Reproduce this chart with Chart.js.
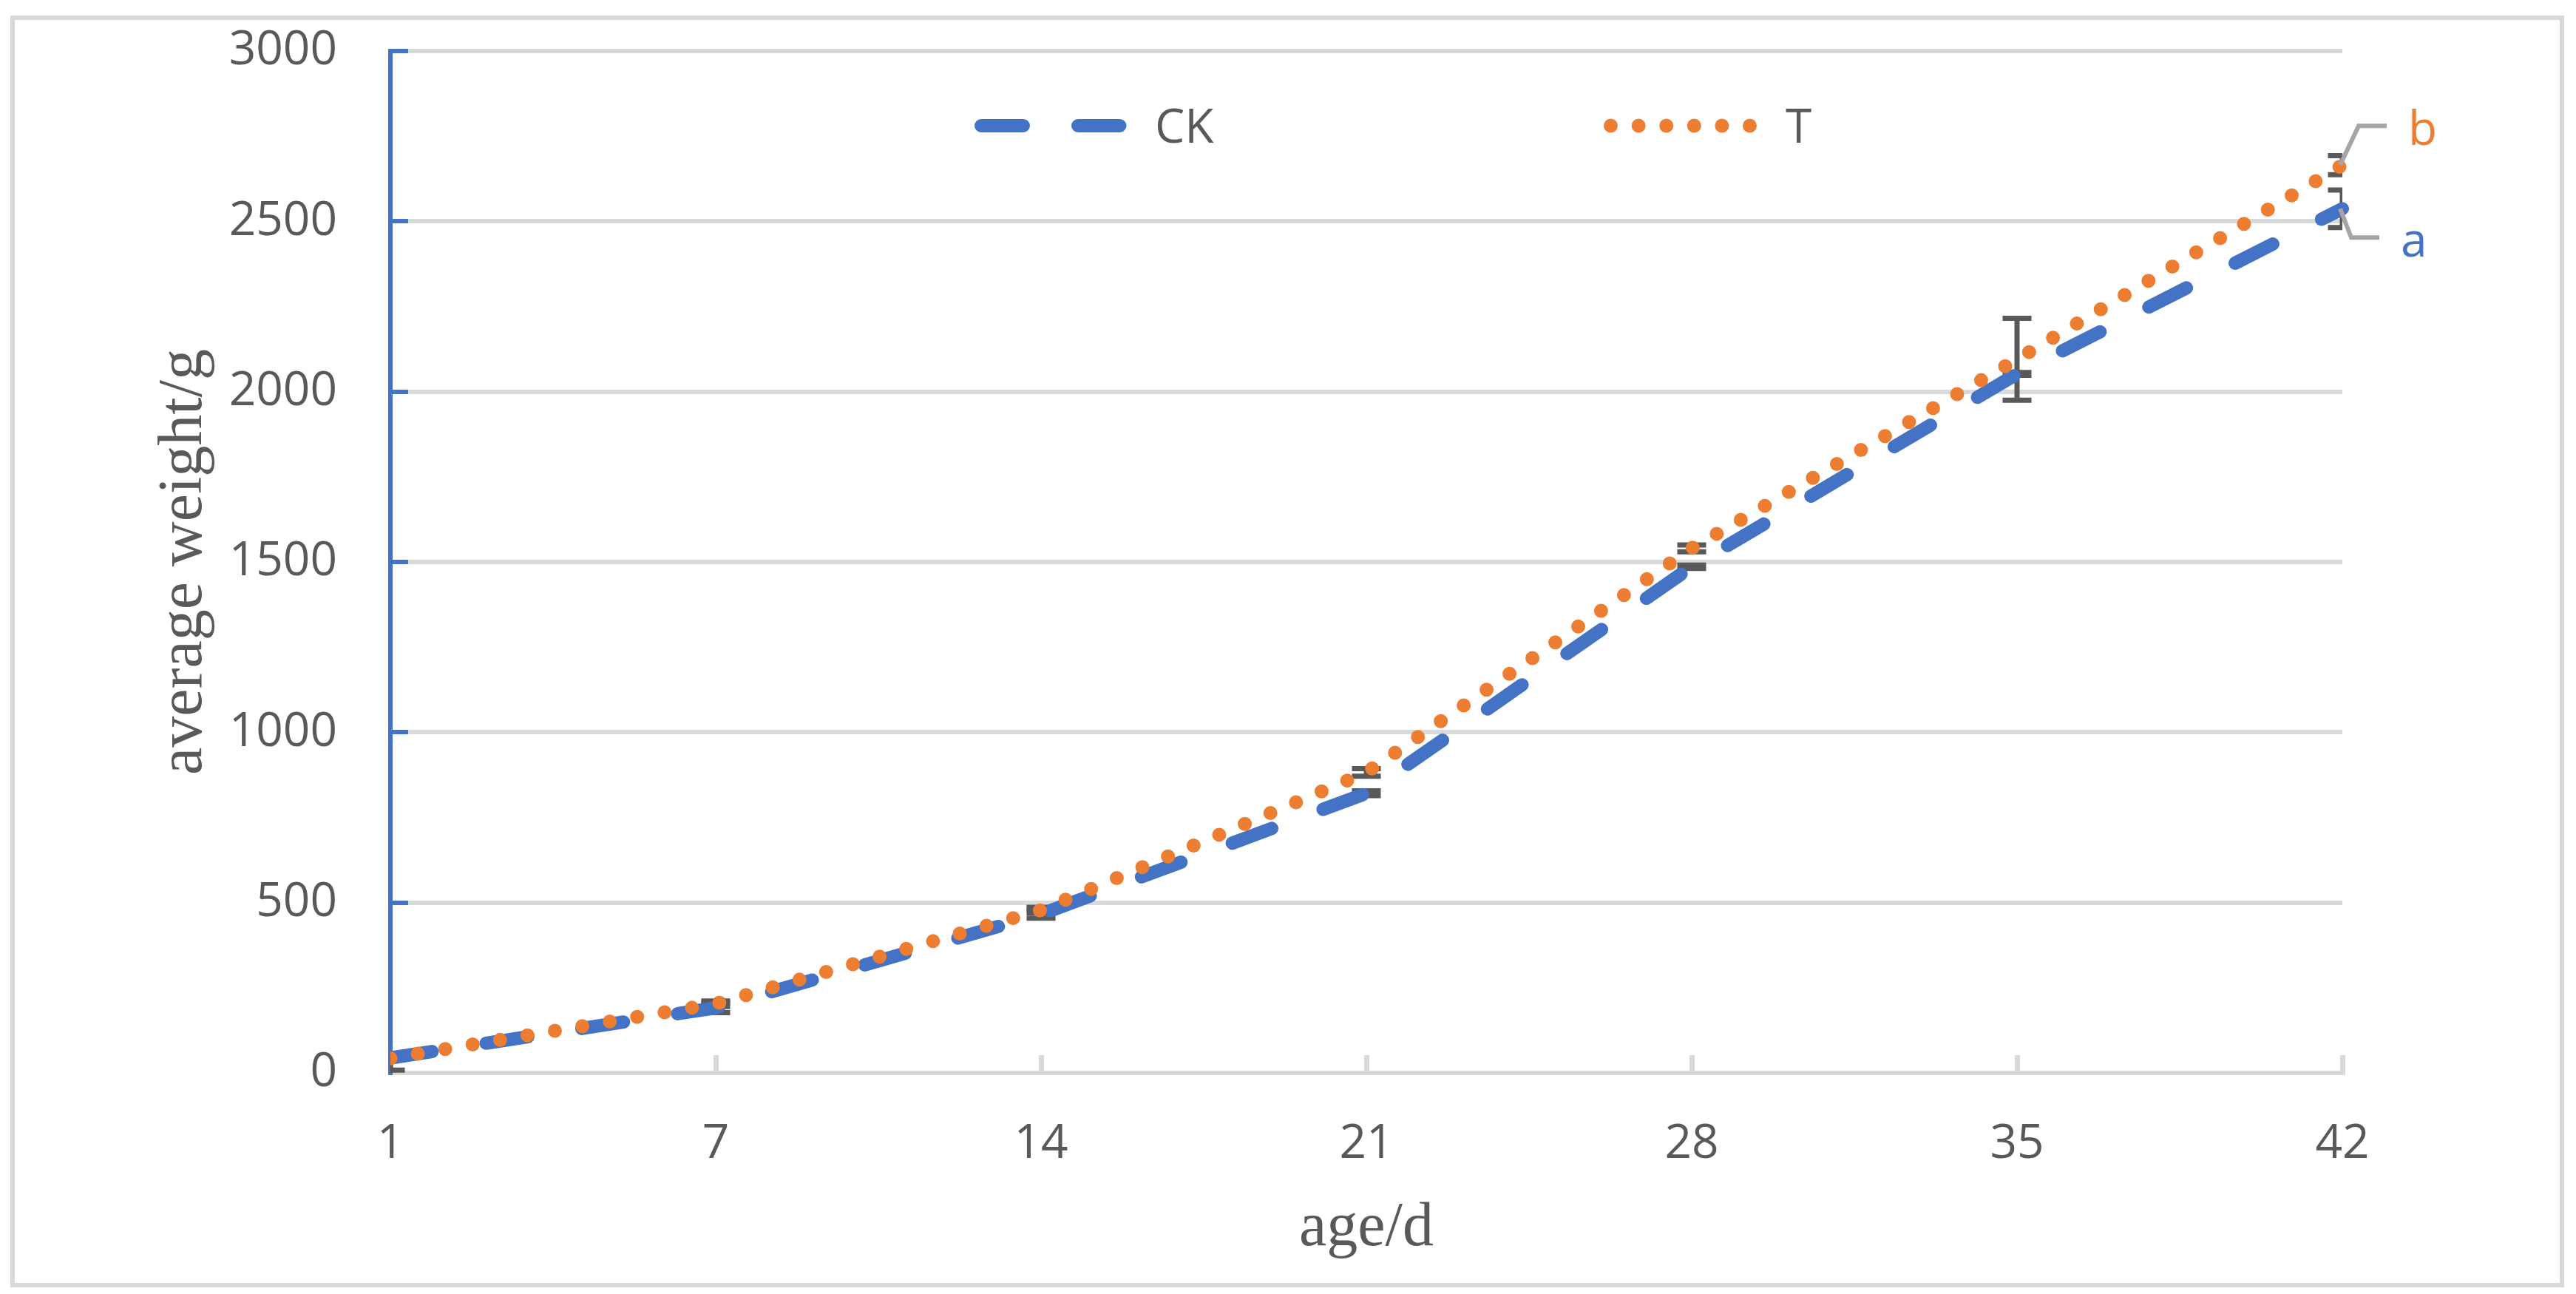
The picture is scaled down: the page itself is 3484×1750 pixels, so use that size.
<!DOCTYPE html>
<html>
<head>
<meta charset="utf-8">
<script src="https://cdn.jsdelivr.net/npm/chart.js@4.4.1/dist/chart.umd.min.js"></script>
<style>
html,body{margin:0;padding:0;background:#ffffff;}
canvas{display:block;}
</style>
</head>
<body>
<canvas id="c" width="3484" height="1750" style="width:3484px;height:1750px"></canvas>
<script>
// ---- data ----
const days = ['1', '7', '14', '21', '28', '35', '42'];
const ckWeight = [44, 191, 466, 821, 1486, 2052, 2537];
const ckErrUp = [0, 14, 12, 7, 5, 4, 55];
const ckErrDown = [36, 14, 12, 7, 5, 4, 55];
const tWeight = [43, 203, 478, 882, 1540, 2095, 2665];
const tErrUp = [2, 8, 8, 11, 10, 120, 28];
const tErrDown = [2, 8, 8, 11, 10, 120, 28];
const yTicks = [0, 500, 1000, 1500, 2000, 2500, 3000];
const seriesNames = ['CK', 'T'];
const sigLetters = ['a', 'b'];
const xTitle = 'age/d';
const yTitle = 'average weight/g';

// ---- style ----
const TEXT = '#595959';
const GRID = '#d9d9d9';
const BLUE = '#4472c4';
const ORANGE = '#ed7d31';
const LEADER = '#a5a5a5';
const TICK_FONT = {family: 'Open Sans', size: 64};
const TITLE_FONT = {family: 'Liberation Serif', size: 84};

const framePlugin = {
  id: 'frame',
  beforeDraw(chart) {
    const ctx = chart.ctx;
    ctx.save();
    ctx.fillStyle = '#ffffff';
    ctx.fillRect(0, 0, chart.width, chart.height);
    ctx.strokeStyle = GRID;
    ctx.lineWidth = 6;
    ctx.strokeRect(17, 24, 3448, 1714);
    ctx.restore();
  }
};

const errorBarPlugin = {
  id: 'errorBars',
  beforeDatasetsDraw(chart) {
    const ctx = chart.ctx;
    const ca = chart.chartArea;
    const xs = chart.scales.x, ys = chart.scales.y;
    ctx.save();
    ctx.beginPath();
    ctx.rect(ca.left, ca.top, ca.right - ca.left, ca.bottom - ca.top);
    ctx.clip();
    ctx.strokeStyle = TEXT;
    ctx.lineWidth = 7;
    ctx.lineCap = 'butt';
    chart.data.datasets.forEach(ds => {
      ds.data.forEach((v, i) => {
        const x = xs.getPixelForValue(i);
        const yHi = ys.getPixelForValue(v + ds.errUp[i]);
        const yLo = ys.getPixelForValue(v - ds.errDown[i]);
        ctx.beginPath();
        ctx.moveTo(x, yHi); ctx.lineTo(x, yLo);
        ctx.moveTo(x - 19.5, yHi); ctx.lineTo(x + 19.5, yHi);
        ctx.moveTo(x - 19.5, yLo); ctx.lineTo(x + 19.5, yLo);
        ctx.stroke();
      });
    });
    ctx.restore();
  }
};

// leader line geometry for the significance letters (relative to last point)
const leaderGeom = [
  {dx1: 12, dy1: 39, dx2: 50, tx: 79},
  {dx1: 22, dy1: -53, dx2: 60, tx: 89}
];

const letterPlugin = {
  id: 'letters',
  afterDatasetsDraw(chart) {
    const ctx = chart.ctx;
    ctx.save();
    chart.data.datasets.forEach((ds, di) => {
      const meta = chart.getDatasetMeta(di);
      const p = meta.data[meta.data.length - 1];
      const g = leaderGeom[di];
      ctx.strokeStyle = LEADER;
      ctx.lineWidth = 6;
      ctx.lineJoin = 'miter';
      ctx.lineCap = 'butt';
      ctx.beginPath();
      ctx.moveTo(p.x - 3, p.y);
      ctx.lineTo(p.x + g.dx1, p.y + g.dy1);
      ctx.lineTo(p.x + g.dx2, p.y + g.dy1);
      ctx.stroke();
      ctx.fillStyle = ds.borderColor;
      ctx.font = '64px "Open Sans"';
      ctx.textAlign = 'left';
      ctx.textBaseline = 'alphabetic';
      ctx.fillText(ds.letter, p.x + g.tx, p.y + g.dy1 + 26);
    });
    ctx.restore();
  }
};

// legend drawn inside the plot like the original
const legendGeom = [
  {x1: 1318, x2: 1523, tx: 1562},
  {x1: 2169, x2: 2377, tx: 2415}
];
const legendPlugin = {
  id: 'insideLegend',
  afterDraw(chart) {
    const ctx = chart.ctx;
    const y = 170;
    ctx.save();
    chart.data.datasets.forEach((ds, di) => {
      const g = legendGeom[di];
      const half = ds.borderWidth / 2;
      ctx.strokeStyle = ds.borderColor;
      ctx.lineWidth = ds.borderWidth;
      ctx.lineCap = 'round';
      ctx.setLineDash(ds.borderDash);
      ctx.beginPath();
      ctx.moveTo(g.x1 + half, y);
      ctx.lineTo(g.x2 - half + 0.5, y);
      ctx.stroke();
      ctx.setLineDash([]);
      ctx.fillStyle = TEXT;
      ctx.font = '64px "Open Sans"';
      ctx.textAlign = 'left';
      ctx.textBaseline = 'alphabetic';
      ctx.fillText(ds.label, g.tx, y + 23);
    });
    ctx.restore();
  }
};

function build() {
  new Chart(document.getElementById('c'), {
    type: 'line',
    data: {
      labels: days,
      datasets: [
        {
          label: seriesNames[0], letter: sigLetters[0],
          data: ckWeight, errUp: ckErrUp, errDown: ckErrDown,
          borderColor: BLUE, borderWidth: 18, borderDash: [57, 74],
          borderCapStyle: 'round', borderJoinStyle: 'round',
          pointRadius: 0, pointHoverRadius: 0, tension: 0, fill: false,
          order: 1, clip: {left: 0, top: 20, right: 12, bottom: 0}
        },
        {
          label: seriesNames[1], letter: sigLetters[1],
          data: tWeight, errUp: tErrUp, errDown: tErrDown,
          borderColor: ORANGE, borderWidth: 19, borderDash: [0, 37.6],
          borderCapStyle: 'round', borderJoinStyle: 'round',
          pointRadius: 0, pointHoverRadius: 0, tension: 0, fill: false,
          order: 0, clip: {left: 0, top: 20, right: 12, bottom: 0}
        }
      ]
    },
    options: {
      responsive: false,
      animation: false,
      devicePixelRatio: 1,
      events: [],
      layout: {padding: {left: 0, right: 316, top: 69, bottom: 0}},
      plugins: {legend: {display: false}, tooltip: {enabled: false}},
      scales: {
        x: {
          type: 'category',
          offset: false,
          grid: {display: true, drawOnChartArea: false, drawTicks: true, tickLength: -24,
                 tickColor: GRID, tickWidth: 7, offset: false},
          border: {display: true, color: GRID, width: 6},
          ticks: {color: TEXT, font: TICK_FONT, padding: 82, maxRotation: 0, autoSkip: false},
          title: {display: true, text: xTitle, color: TEXT, font: TITLE_FONT, padding: {top: 0, bottom: 38}},
          afterFit: s => { s.height = 299; s.paddingLeft = 0; s.paddingRight = 0; }
        },
        y: {
          min: 0, max: 3000,
          afterBuildTicks: s => { s.ticks = yTicks.map(v => ({value: v})); },
          grid: {color: GRID, lineWidth: 6, drawTicks: true, tickLength: -24, tickColor: BLUE, tickWidth: 6},
          border: {display: true, color: BLUE, width: 6},
          ticks: {color: TEXT, font: TICK_FONT, padding: 96, callback: v => String(v)},
          title: {display: true, text: yTitle, color: TEXT, font: TITLE_FONT, padding: {top: 200, bottom: 0}},
          afterFit: s => { s.width = 528; s.paddingTop = 0; s.paddingBottom = 0; }
        }
      }
    },
    plugins: [framePlugin, errorBarPlugin, letterPlugin, legendPlugin]
  });
}

Promise.all([
  document.fonts.load('64px "Open Sans"'),
  document.fonts.load('84px "Liberation Serif"')
]).then(build, build);
</script>
</body>
</html>
